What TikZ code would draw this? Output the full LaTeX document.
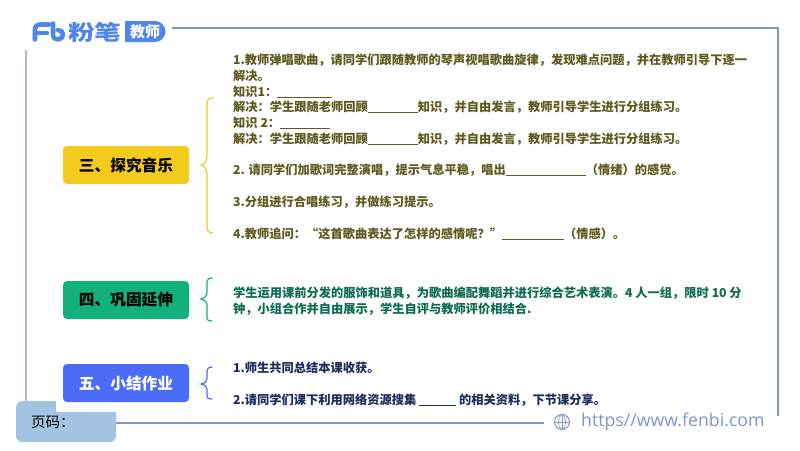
\documentclass[tikz,border=0pt]{standalone}
\usepackage{fontspec}
\setmainfont{Noto Sans CJK SC}
\newfontfamily\latinfont{Open Sans}
\usetikzlibrary{shapes.geometric}

\definecolor{framecol}{HTML}{7C95CB}
\definecolor{sidecol}{HTML}{A9BAD2}
\definecolor{logocol}{HTML}{4F86E8}
\definecolor{tagcol}{HTML}{A3C3E3}
\definecolor{yellowcol}{HTML}{F2CB1D}
\definecolor{greencol}{HTML}{12B07C}
\definecolor{bluecol}{HTML}{4A6CF7}
\definecolor{olivecol}{HTML}{5E5A1E}
\definecolor{tealcol}{HTML}{0E6B50}
\definecolor{navycol}{HTML}{1F2A5E}

\newcommand{\gap}[1]{\rule[-1.5pt]{#1pt}{0.7pt}}

\tikzset{
    secbox/.style={rounded corners=4pt, minimum width=126pt, minimum height=38pt, inner sep=0pt, font=\fontsize{15.7}{17}\selectfont\bfseries},
    txt/.style={anchor=west, inner sep=0pt, font=\fontsize{12.25}{14}\selectfont\bfseries},
    bracket/.style={line width=1.2pt, line cap=round},
    logoline/.style={logocol, line width=4.6pt, line cap=round, line join=round}
}

\begin{document}
\begin{tikzpicture}[x=1pt,y=-1pt]
        \useasboundingbox[fill=white] (0,0) rectangle (800,450);

        % frame
        \draw[framecol, line width=1.1pt] (172,28) -- (778,28) -- (778,416);
        \draw[sidecol, line width=1.1pt] (26,50) -- (26,402);
        \draw[framecol, line width=1.1pt] (116,423) -- (544,423);

        % logo
        \draw[logoline] (35,39.5) -- (35,30) .. controls (35,26) and (37,24.5) .. (41,24.5) -- (49,24.5);
        \draw[logoline] (35,33) -- (47,33);
        \draw[logoline] (53,23.5) -- (53,34) .. controls (53,38) and (55,39.5) .. (58,39.5) .. controls (61,39.5) and (63,37) .. (63,34.5) .. controls (63,32) and (61,30) .. (58,30);
        \node[anchor=west, inner sep=0pt, text=logocol, font=\fontsize{21}{21}\selectfont\bfseries] (fenbi) at (68,32) {\scalebox{1.27}[1]{粉笔}};
        \fill[logocol] (125,21) -- (155,21) arc (-90:90:10.5) -- (125,42) -- cycle;
        \node[inner sep=0pt, text=white, font=\fontsize{15}{15}\selectfont\bfseries] (jiaoshi) at (145,32) {教师};

        % yellow section
        \node[secbox, fill=yellowcol, text=black] (tansuo) at (126,165) {三、探究音乐};
        \draw[yellowcol, bracket] (213,98) .. controls (206,98) and (207,102) .. (207,108) -- (207,155) .. controls (207,161) and (205,164) .. (201,165) .. controls (205,166) and (207,169) .. (207,175) -- (207,223) .. controls (207,230) and (207,233) .. (213,233);

        \begin{scope}[text=olivecol]
        \node[txt] (a1) at (233,60) {1.教师弹唱歌曲，请同学们跟随教师的琴声视唱歌曲旋律，发现难点问题，并在教师引导下逐一};
        \node[txt] (a2) at (233,76) {解决。};
        \node[txt] (a3) at (233,92) {知识1：\gap{55}};
        \node[txt] (a4) at (233,107) {解决：学生跟随老师回顾\gap{50}知识，并自由发言，教师引导学生进行分组练习。};
        \node[txt] (a5) at (233,123) {知识 2：\gap{50}};
        \node[txt] (a6) at (233,139) {解决：学生跟随老师回顾\gap{50}知识，并自由发言，教师引导学生进行分组练习。};
        \node[txt] (a7) at (233,170) {2. 请同学们加歌词完整演唱，提示气息平稳，唱出\gap{80}（情绪）的感觉。};
        \node[txt] (a8) at (233,202) {3.分组进行合唱练习，并做练习提示。};
        \node[txt] (a9) at (233,234) {4.教师追问：“这首歌曲表达了怎样的感情呢？”\gap{62}（情感）。};
        \end{scope}

        % green section
        \node[secbox, fill=greencol, text=black] (gonggu) at (126,300) {四、巩固延伸};
        \draw[greencol, bracket] (212,278) .. controls (206,278) and (207,282) .. (207,287) -- (207,292) .. controls (207,296) and (205,298) .. (201,299) .. controls (205,300) and (207,302) .. (207,306) -- (207,314) .. controls (207,319) and (206,321) .. (212,321);

        \begin{scope}[text=tealcol]
        \node[txt] (b1) at (233,293) {学生运用课前分发的服饰和道具，为歌曲编配舞蹈并进行综合艺术表演。4 人一组，限时 10 分};
        \node[txt] (b2) at (233,309) {钟，小组合作并自由展示，学生自评与教师评价相结合.};
        \end{scope}

        % blue section
        \node[secbox, fill=bluecol, text=white] (xiaojie) at (126,383) {五、小结作业};
        \draw[bluecol, bracket] (212,367) .. controls (207,367) and (207,370) .. (207,374) -- (207,379) .. controls (207,382) and (205,383) .. (201,384) .. controls (205,385) and (207,386) .. (207,389) -- (207,393) .. controls (207,398) and (207,399) .. (212,399);

        \begin{scope}[text=navycol]
        \node[txt] (c1) at (233,368) {1.师生共同总结本课收获。};
        \node[txt] (c2) at (233,400) {2.请同学们课下利用网络资源搜集 \gap{37} 的相关资料，下节课分享。};
        \end{scope}

        % page tag
        \fill[tagcol] (22,401) -- (56,401) -- (56,412) -- (116,412) -- (116,436) arc (0:90:6) -- (22,442) arc (90:180:6) -- (16,407) arc (180:270:6) -- cycle;
        \node[anchor=west, inner sep=0pt, text=black, font=\fontsize{14.5}{16}\selectfont] (yema) at (31,422) {页码：};

        % url
        \node[draw=framecol, circle, line width=1pt, minimum size=15pt, inner sep=0pt] (globe) at (562,422) {};
        \draw[framecol, line width=0.7pt] (globe.north) -- (globe.south);
        \draw[framecol, line width=0.7pt] (globe.west) -- (globe.east);
        \draw[framecol, line width=0.7pt] (globe.north) .. controls (557,417) and (557,427) .. (globe.south);
        \draw[framecol, line width=0.7pt] (globe.north) .. controls (567,417) and (567,427) .. (globe.south);
        \node[anchor=west, inner sep=0pt, text=framecol, font=\fontsize{17.7}{19}\selectfont\latinfont] (url) at (581,422) {https//www.fenbi.com};
    \end{tikzpicture}
\end{document}
